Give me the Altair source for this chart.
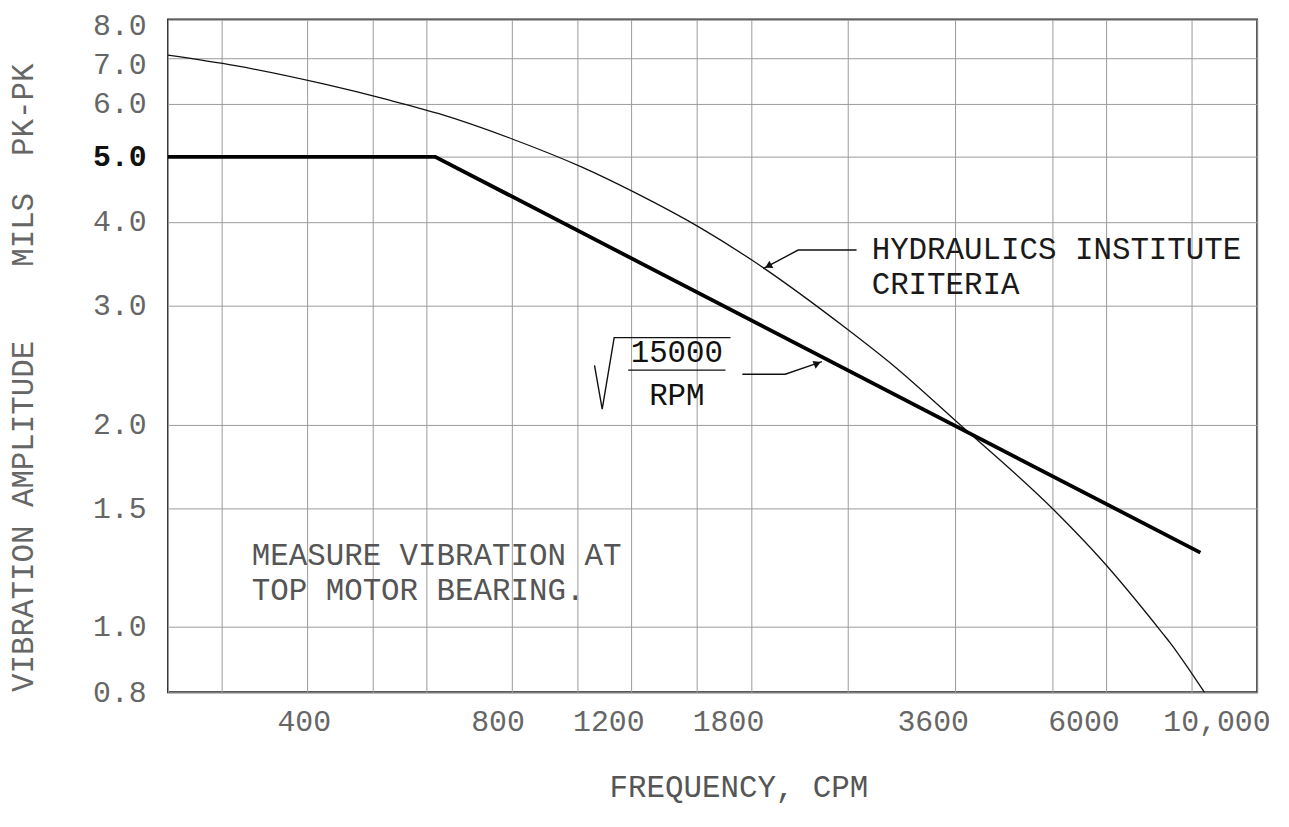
import altair as alt
import pandas as pd

# ---------------- data ----------------
x_grid = [250, 300, 400, 500, 600, 800, 1000, 1200, 1500, 1800, 2500, 3600, 5000, 6000, 8000, 10000]
x_label_values = [400, 800, 1200, 1800, 3600, 6000, 10000]
x_label_texts = ["400", "800", "1200", "1800", "3600", "6000", "10,000"]
y_grid = [0.8, 1.0, 1.5, 2.0, 3.0, 4.0, 5.0, 6.0, 7.0, 8.0]

# Hydraulics Institute criteria (thin curve)
hi_freq = [250, 314, 425, 526, 624, 804, 1014, 1212, 1524, 1815, 2474, 2928, 3632, 5033, 5897, 7265, 7463, 8008, 8366]
hi_amp = [7.08, 6.83, 6.41, 6.08, 5.80, 5.31, 4.83, 4.43, 3.91, 3.50, 2.79, 2.44, 2.01, 1.49, 1.26, 0.978, 0.945, 0.854, 0.80]

# sqrt(15000/RPM) limit (thick line)
sq_freq = [250, 618, 8250]
sq_amp = [5.0, 5.0, 1.29]

# annotation leaders (data coordinates)
hi_lead_f = [2575, 2113, 1877]
hi_lead_a = [3.634, 3.634, 3.41]
sq_lead_f = [1749, 2022, 2290]
sq_lead_a = [2.376, 2.376, 2.48]
radical_f = [1060, 1088, 1133, 1680]
radical_a = [2.449, 2.109, 2.693, 2.693]
bar_f = [1188, 1652]
bar_a = [2.409, 2.409]

arrow_f = [1909, 2255]
arrow_a = [3.44, 2.465]
arrow_ang = [241.5, 68]

left_text = ["HYDRAULICS INSTITUTE", "CRITERIA", "MEASURE VIBRATION AT", "TOP MOTOR BEARING."]
left_text_f = [2710, 2710, 332, 332]
left_text_a = [3.634, 3.226, 1.274, 1.131]
left_text_c = ["#1a1a1a", "#1a1a1a", "#555555", "#555555"]

frac_text = ["15000", "RPM"]
frac_text_f = [1401, 1401]
frac_text_a = [2.55, 2.205]

NB = "\u00a0"
y_title = "VIBRATION" + NB + "AMPLITUDE" + NB * 4 + "MILS" + NB * 2 + "PK-PK"
x_title = "FREQUENCY," + NB + "CPM"

FONT = "Liberation Mono"

# ---------------- tables ----------------
hi_df = pd.DataFrame({"f": hi_freq, "a": hi_amp})
sq_df = pd.DataFrame({"f": sq_freq, "a": sq_amp})

ann_rows = []
for g, (fs, as_) in enumerate([(hi_lead_f, hi_lead_a), (sq_lead_f, sq_lead_a),
                                (radical_f, radical_a), (bar_f, bar_a)]):
    for o, (fv, av) in enumerate(zip(fs, as_)):
        ann_rows.append({"f": fv, "a": av, "g": g, "o": o})
ann_df = pd.DataFrame(ann_rows)
arrow_df = pd.DataFrame({"f": arrow_f, "a": arrow_a, "ang": arrow_ang})
lt_df = pd.DataFrame({"f": left_text_f, "a": left_text_a, "t": left_text, "c": left_text_c})
ft_df = pd.DataFrame({"f": frac_text_f, "a": frac_text_a, "t": frac_text})

# label expression for x axis
expr = "''"
for v, t in reversed(list(zip(x_label_values, x_label_texts))):
    expr = f"datum.value == {v} ? '{t}' : ({expr})"

x_enc = alt.X(
    "f:Q",
    scale=alt.Scale(type="log", domain=[250, 10000], nice=False),
    axis=alt.Axis(
        values=x_grid, labelExpr=expr, grid=True, gridColor="#9a9a9a", gridWidth=1,
        ticks=False, domain=False,
        labelFont=FONT, labelFontSize=30, labelColor="#666666",
        labelAlign="right",
        labelOffset={"condition": {"test": "datum.value == 400", "value": 24}, "value": 13},
        labelBaseline="middle", labelPadding=29,
        labelOverlap=False, labelFlush=False, labelBound=False,
        title=x_title, titleFont=FONT, titleFontSize=31, titleFontWeight="normal",
        titleColor="#555555", titleX=574, titleY=96, titleBaseline="middle", titleAlign="center",
    ),
)
y_enc = alt.Y(
    "a:Q",
    scale=alt.Scale(type="log", domain=[0.8, 8.0], nice=False),
    axis=alt.Axis(
        values=y_grid, format=".1f", grid=True, gridColor="#9a9a9a", gridWidth=1,
        ticks=False, domain=False,
        labelFont=FONT, labelFontSize=30,
        labelColor={"condition": {"test": "datum.value == 5", "value": "#111111"}, "value": "#666666"},
        labelFontWeight={"condition": {"test": "datum.value == 5", "value": "bold"}, "value": "normal"},
        labelOffset={"condition": {"test": "datum.value >= 7", "value": 6}, "value": 0},
        labelPadding=22, labelOverlap=False, labelFlush=False, labelBound=False,
        title=y_title, titleFont=FONT, titleFontSize=31,
        titleFontWeight="normal", titleColor="#666666", titleAngle=270,
        titleX=-145, titleY=360, titleBaseline="middle", titleAlign="center",
    ),
)

hi_line = alt.Chart(hi_df).mark_line(color="#111111", strokeWidth=1.3, interpolate="monotone").encode(x=x_enc, y=y_enc)
sq_line = alt.Chart(sq_df).mark_line(color="#000000", strokeWidth=3.8).encode(x=x_enc, y=y_enc)
ann_lines = alt.Chart(ann_df).mark_line(color="#111111", strokeWidth=1.4).encode(
    x=x_enc, y=y_enc, detail="g:N", order="o:Q")
arrows = alt.Chart(arrow_df).mark_point(shape="triangle-up", filled=True, color="#111111",
                                        size=70, opacity=1).encode(
    x=x_enc, y=y_enc, angle=alt.Angle("ang:Q", scale=None))
ltexts = alt.Chart(lt_df).mark_text(font=FONT, fontSize=31, align="left", baseline="middle").encode(
    x=x_enc, y=y_enc, text="t:N", color=alt.Color("c:N", scale=None))
ftexts = alt.Chart(ft_df).mark_text(font=FONT, fontSize=31, align="center", baseline="middle",
                                    color="#111111").encode(x=x_enc, y=y_enc, text="t:N")

chart = alt.layer(hi_line, sq_line, ann_lines, arrows, ltexts, ftexts).properties(
    width=1096, height=677,
    autosize=alt.AutoSizeParams(type="none"),
    padding={"left": 161, "top": 9, "right": 24, "bottom": 126},
    background="white",
).configure_view(stroke="#222222", strokeWidth=1.8)

chart.save("out.html", embed_options={"renderer": "svg", "actions": False})
